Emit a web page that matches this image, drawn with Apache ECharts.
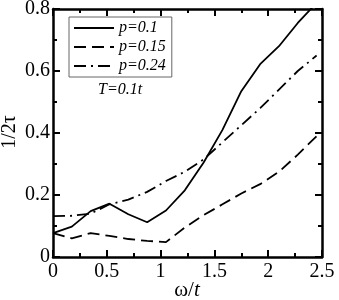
<!DOCTYPE html>
<html><head><meta charset="utf-8">
<script src="https://cdn.jsdelivr.net/npm/echarts@6/dist/echarts.min.js"></script>
<style>html,body{margin:0;padding:0;background:#fff}#c{width:339px;height:300px}</style>
</head><body><div id="c"></div>
<script>
var omega = [0, 0.175, 0.35, 0.525, 0.7, 0.875, 1.05, 1.225, 1.4, 1.575, 1.75, 1.925, 2.1, 2.275, 2.45];
var p010 = [0.077, 0.098, 0.148, 0.172, 0.138, 0.112, 0.15, 0.215, 0.305, 0.41, 0.535, 0.622, 0.68, 0.755, 0.82];
var p015 = [0.077, 0.06, 0.077, 0.068, 0.058, 0.052, 0.048, 0.095, 0.135, 0.17, 0.205, 0.235, 0.275, 0.33, 0.39];
var p024 = [0.132, 0.133, 0.14, 0.17, 0.185, 0.21, 0.245, 0.275, 0.315, 0.37, 0.425, 0.48, 0.54, 0.6, 0.65];
var seriesNames = ['p=0.1', 'p=0.15', 'p=0.24'];
var xTicks = [0, 0.5, 1, 1.5, 2, 2.5];
var yTicks = [0, 0.2, 0.4, 0.6, 0.8];

function pairs(ys){ return omega.map(function(x,i){ return [x, ys[i]]; }); }
var font = '"Liberation Serif","DejaVu Serif",serif';
function ax(extra){
  var base = {
    type: 'value',
    axisLine: {show: true, onZero: false, lineStyle: {color: '#000', width: 2.5}},
    axisTick: {show: true, inside: true, length: 7, lineStyle: {color: '#000', width: 2}},
    minorTick: {show: true, splitNumber: 2, length: 4, lineStyle: {color: '#000', width: 2}},
    splitLine: {show: false}
  };
  return Object.assign(base, extra);
}

var chart = echarts.init(document.getElementById('c'), null, {renderer: 'canvas'});
chart.setOption({
  animation: false,
  grid: {left: 53, top: 9, right: 17, bottom: 43, containLabel: false, outerBoundsMode: 'none'},
  title: {text: 'T=0.1t', left: 93, top: 77,
    textStyle: {fontFamily: font, fontStyle: 'italic', fontWeight: 'normal', fontSize: 16, color: '#000'}},
  graphic: [
    {type: 'text', x: 187, y: 290, style: {
      text: '{u|ω/}{i|t}', align: 'center', verticalAlign: 'middle',
      rich: {u: {fontFamily: font, fontSize: 21, fill: '#000'},
             i: {fontFamily: font, fontSize: 21, fontStyle: 'italic', fill: '#000'}}}},
    {type: 'text', x: 10, y: 132, rotation: Math.PI / 2, style: {
      text: '1/2τ', align: 'center', verticalAlign: 'middle',
      fontFamily: font, fontSize: 20, fill: '#000'}}
  ],
  legend: {
    orient: 'vertical', left: 69, top: 17,
    padding: [3, 6, 3, 4], itemGap: 3, itemWidth: 40, itemHeight: 14,
    borderColor: '#666', borderWidth: 1,
    itemStyle: {opacity: 0},
    textStyle: {fontFamily: font, fontStyle: 'italic', fontSize: 16, color: '#000'},
    data: seriesNames
  },
  xAxis: [
    ax({min: 0, max: 2.5, interval: 0.5, position: 'bottom',
      axisLabel: {fontFamily: font, fontSize: 20, color: '#000', margin: 5,
        formatter: function(v){ return String(v); }}}),
    ax({min: 0, max: 2.5, interval: 0.5, position: 'top', axisLabel: {show: false}})
  ],
  yAxis: [
    ax({min: 0, max: 0.8, interval: 0.2, position: 'left',
      axisLabel: {fontFamily: font, fontSize: 20, color: '#000', margin: 3,
        formatter: function(v){ return v === 0 ? '0' : v.toFixed(1); }}}),
    ax({min: 0, max: 0.8, interval: 0.2, position: 'right', axisLabel: {show: false}})
  ],
  series: [
    {name: seriesNames[0], type: 'line', data: pairs(p010), symbol: 'none', clip: true,
      lineStyle: {color: '#000', width: 1.8, type: 'solid'}, itemStyle: {color: '#000'}},
    {name: seriesNames[1], type: 'line', data: pairs(p015), symbol: 'none', clip: true,
      lineStyle: {color: '#000', width: 1.8, type: [12, 6]}, itemStyle: {color: '#000'}},
    {name: seriesNames[2], type: 'line', data: pairs(p024), symbol: 'none', clip: true,
      lineStyle: {color: '#000', width: 1.8, type: [12, 5, 2, 5]}, itemStyle: {color: '#000'}}
  ]
});
</script></body></html>
